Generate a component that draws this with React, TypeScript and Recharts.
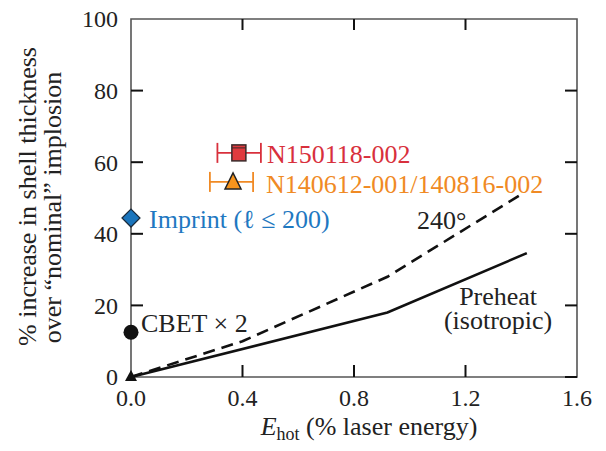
import React from 'react';
import {
  ComposedChart,
  XAxis,
  YAxis,
  Line,
  Scatter,
  ErrorBar,
  ReferenceArea,
  ReferenceDot,
} from 'recharts';

// ---------- data ----------
const xTicks = [0, 0.4, 0.8, 1.2, 1.6];
const yTicks = [0, 20, 40, 60, 80, 100];

const preheatLine = [
  { x: 0, y: 0 },
  { x: 0.92, y: 18 },
  { x: 1.42, y: 34.6 },
];
const angle240Line = [
  { x: 0, y: 0 },
  { x: 0.4, y: 10 },
  { x: 0.92, y: 28 },
  { x: 1.41, y: 51.5 },
];
const baselinePoint = [{ x: 0, y: 0 }];
const cbetPoint = [{ x: 0, y: 12.5 }];
const imprintPoint = [{ x: 0, y: 44.4 }];
const n150118Point = [{ x: 0.387, y: 62.6, err: [0.077, 0.079] }];
const n140612Point = [{ x: 0.366, y: 54.5, err: [0.083, 0.072] }];

const annotations = [
  { x: 0.488, y: 59.8, text: 'N150118-002', color: '#d8303c', anchor: 'start' },
  { x: 0.484, y: 51.4, text: 'N140612-001/140816-002', color: '#f08a24', anchor: 'start' },
  { x: 0.065, y: 41.6, text: 'Imprint (\u2113 \u2264 200)', color: '#1f78c1', anchor: 'start' },
  { x: 0.036, y: 12.6, text: 'CBET \u00d7 2', color: '#222', anchor: 'start' },
  { x: 1.026, y: 41.3, text: '240\u00b0', color: '#222', anchor: 'start' },
  { x: 1.317, y: 20.1, text: 'Preheat', color: '#222', anchor: 'middle' },
  { x: 1.317, y: 13.3, text: '(isotropic)', color: '#222', anchor: 'middle' },
];

// ---------- styles ----------
const FONT = "'Liberation Serif', 'DejaVu Serif', serif";
const TICK_FS = 24;
const TEXT_FS = 26;
const FRAME = '#555';
const INK = '#111';
const serif = { fontFamily: FONT };

const BottomTick = (props: any) => {
  const { x, y, payload } = props;
  const v = payload.value as number;
  return (
    <g>
      {v > 0 && v < 1.6 && (
        <line x1={x} x2={x} y1={y} y2={y - 12} stroke={INK} strokeWidth={2} />
      )}
      <text x={x} y={y + 29} textAnchor="middle" fontSize={TICK_FS} style={serif} fill="#222">
        {v.toFixed(1)}
      </text>
    </g>
  );
};

const TopTick = (props: any) => {
  const { x, y, payload } = props;
  const v = payload.value as number;
  if (!(v > 0 && v < 1.6)) return <g />;
  return <line x1={x} x2={x} y1={y} y2={y + 11} stroke={INK} strokeWidth={2} />;
};

const LeftTick = (props: any) => {
  const { x, y, payload } = props;
  const v = payload.value as number;
  return (
    <g>
      {v > 0 && v < 100 && (
        <line x1={x} x2={x + 12} y1={y} y2={y} stroke={INK} strokeWidth={2} />
      )}
      <text x={x - 13} y={y} dy="0.35em" textAnchor="end" fontSize={TICK_FS} style={serif} fill="#222">
        {v}
      </text>
    </g>
  );
};

const RightTick = (props: any) => {
  const { x, y, payload } = props;
  const v = payload.value as number;
  if (v >= 100) return <g />;
  return <line x1={x} x2={x - 12} y1={y} y2={y} stroke={INK} strokeWidth={2} />;
};

const XLabel = (props: any) => {
  const vb = props.viewBox;
  const cx = vb.x + vb.width / 2 + 15;
  return (
    <text x={cx} y={vb.y + 58} textAnchor="middle" fontSize={26} style={serif} fill="#222">
      <tspan fontStyle="italic">E</tspan>
      <tspan fontSize={18} dy={5}>hot</tspan>
      <tspan dy={-5}> (% laser energy)</tspan>
    </text>
  );
};

const YLabel = (props: any) => {
  const vb = props.viewBox;
  const cy = vb.y + vb.height / 2;
  const y1 = cy - 1.5;
  const y2 = cy + 9.5;
  return (
    <g fontSize={TEXT_FS} style={serif} fill="#222">
      <text x={28} y={y1} textAnchor="middle" transform={`rotate(-90 28 ${y1})`} style={serif}>
        % increase in shell thickness
      </text>
      <text x={53} y={y2} textAnchor="middle" transform={`rotate(-90 53 ${y2})`} style={serif}>
        over {'\u201c'}nominal{'\u201d'} implosion
      </text>
    </g>
  );
};

const TriangleBlack = (p: any) => {
  const { cx, cy } = p;
  return <path d={`M${cx - 6},${cy + 4} L${cx + 6},${cy + 4} L${cx},${cy - 7} Z`} fill="#111" />;
};
const CircleBlack = (p: any) => <circle cx={p.cx} cy={p.cy} r={7.5} fill="#111" />;
const DiamondBlue = (p: any) => {
  const { cx, cy } = p;
  return (
    <path
      d={`M${cx - 9},${cy} L${cx},${cy - 9} L${cx + 9},${cy} L${cx},${cy + 9} Z`}
      fill="#1b75bc"
      stroke="#1a2a3a"
      strokeWidth={1.2}
    />
  );
};
const SquareRed = (p: any) => {
  const { cx, cy } = p;
  return (
    <g>
      <rect x={cx - 7} y={cy - 8} width={14} height={16} fill="#e03a3e" stroke="#3a2a2a" strokeWidth={1.5} />
      <line x1={cx - 7} x2={cx + 7} y1={cy - 5} y2={cy - 5} stroke="#3a2a2a" strokeWidth={1} />
    </g>
  );
};
const TriangleOrange = (p: any) => {
  const { cx, cy } = p;
  return (
    <path
      d={`M${cx - 8},${cy + 7} L${cx + 8},${cy + 7} L${cx},${cy - 9} Z`}
      fill="#f7941d"
      stroke="#222"
      strokeWidth={1.5}
    />
  );
};

const annotationContent = (a: any) => (props: any) => {
  const vb = props.viewBox;
  return (
    <text x={vb.x} y={vb.y} textAnchor={a.anchor} fontSize={TEXT_FS} style={serif} fill={a.color}>
      {a.text}
    </text>
  );
};

export default function App() {
  return (
    <div style={{ fontFamily: FONT }}>
      <ComposedChart
        width={598}
        height={443}
        margin={{ top: 10, right: 28, bottom: 0, left: 0 }}
      >
        <XAxis
          xAxisId="b"
          dataKey="x"
          type="number"
          domain={[0, 1.6]}
          ticks={xTicks}
          axisLine={false}
          tickLine={false}
          tickSize={0}
          tickMargin={0}
          height={74}
          tick={<BottomTick />}
          interval={0}
          label={{ content: <XLabel /> } as any}
        />
        <XAxis
          xAxisId="t"
          orientation="top"
          dataKey="x"
          type="number"
          domain={[0, 1.6]}
          ticks={xTicks}
          allowDataOverflow
          axisLine={false}
          tickLine={false}
          tickSize={0}
          tickMargin={0}
          height={1}
          tick={<TopTick />}
          interval={0}
        />
        <YAxis
          yAxisId="l"
          dataKey="y"
          type="number"
          domain={[0, 100]}
          ticks={yTicks}
          axisLine={false}
          tickLine={false}
          tickSize={0}
          tickMargin={0}
          width={123}
          tick={<LeftTick />}
          interval={0}
          label={{ content: <YLabel /> } as any}
        />
        <YAxis
          yAxisId="r"
          orientation="right"
          dataKey="y"
          type="number"
          domain={[0, 100]}
          ticks={yTicks}
          allowDataOverflow
          axisLine={false}
          tickLine={false}
          tickSize={0}
          tickMargin={0}
          width={1}
          tick={<RightTick />}
          interval={0}
        />
        <ReferenceArea
          xAxisId="b"
          yAxisId="l"
          x1={0}
          x2={1.6}
          y1={0}
          y2={100}
          fill="none"
          fillOpacity={0}
          stroke={FRAME}
          strokeWidth={1.6}
          ifOverflow="visible"
        />
        <Line
          xAxisId="b"
          yAxisId="l"
          data={angle240Line}
          dataKey="y"
          type="linear"
          stroke={INK}
          strokeWidth={2.6}
          strokeDasharray="12 7"
          dot={false}
          isAnimationActive={false}
        />
        <Line
          xAxisId="b"
          yAxisId="l"
          data={preheatLine}
          dataKey="y"
          type="linear"
          stroke={INK}
          strokeWidth={2.6}
          dot={false}
          isAnimationActive={false}
        />
        <Scatter xAxisId="b" yAxisId="l" data={baselinePoint} dataKey="y" shape={<TriangleBlack />} isAnimationActive={false} />
        <Scatter xAxisId="b" yAxisId="l" data={cbetPoint} dataKey="y" shape={<CircleBlack />} isAnimationActive={false} />
        <Scatter xAxisId="b" yAxisId="l" data={imprintPoint} dataKey="y" shape={<DiamondBlue />} isAnimationActive={false} />
        <Scatter xAxisId="b" yAxisId="l" data={n150118Point} dataKey="y" shape={<SquareRed />} isAnimationActive={false}>
          <ErrorBar dataKey="err" direction="x" width={10} stroke="#d8303c" strokeWidth={1.8} />
        </Scatter>
        <Scatter xAxisId="b" yAxisId="l" data={n140612Point} dataKey="y" shape={<TriangleOrange />} isAnimationActive={false}>
          <ErrorBar dataKey="err" direction="x" width={10} stroke="#f08a24" strokeWidth={1.8} />
        </Scatter>
        {annotations.map((a, i) => (
          <ReferenceDot
            key={i}
            xAxisId="b"
            yAxisId="l"
            x={a.x}
            y={a.y}
            r={0}
            fill="none"
            stroke="none"
            ifOverflow="visible"
            label={{ content: annotationContent(a) } as any}
          />
        ))}
      </ComposedChart>
    </div>
  );
}
